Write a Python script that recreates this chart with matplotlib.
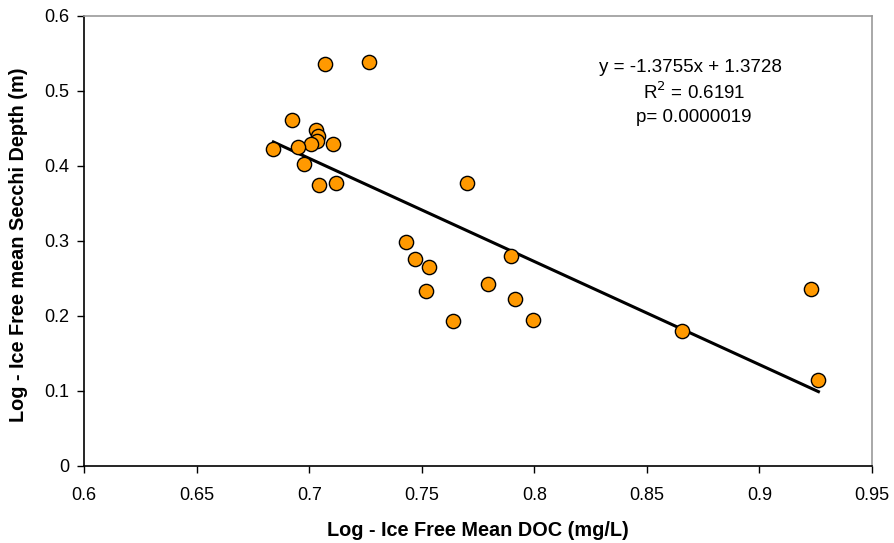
import matplotlib
matplotlib.use("Agg")
import matplotlib.pyplot as plt
import numpy as np

plt.rcParams['font.family'] = ['Liberation Sans', 'DejaVu Sans']

doc = [0.7070, 0.7266, 0.6922, 0.7030, 0.7037, 0.7036, 0.7008, 0.7104, 0.6950,
       0.6840, 0.6975, 0.7044, 0.7118, 0.7700, 0.7428, 0.7468, 0.7530, 0.7895,
       0.7517, 0.7792, 0.7915, 0.7638, 0.7995, 0.8657, 0.9231, 0.9262]
secchi = [0.536, 0.538, 0.461, 0.448, 0.440, 0.433, 0.429, 0.429, 0.425,
          0.423, 0.403, 0.375, 0.377, 0.377, 0.298, 0.276, 0.265, 0.280,
          0.233, 0.243, 0.223, 0.193, 0.195, 0.180, 0.236, 0.114]
slope, intercept = -1.3755, 1.3728
xticks = [0.6, 0.65, 0.7, 0.75, 0.8, 0.85, 0.9, 0.95]
yticks = [0, 0.1, 0.2, 0.3, 0.4, 0.5, 0.6]

fig = plt.figure(figsize=(8.94, 5.43), dpi=100)
L, B, T, R = 84.3, 465.7, 16, 872
ax = fig.add_axes([L/894, 1-B/543, (R-L)/894, (B-T)/543])

xs = np.array([min(doc), max(doc)])
ax.plot(xs, slope*xs + intercept, color='black', lw=2.2, zorder=2)
ax.scatter(doc, secchi, s=105, c='#FF9900', edgecolors='black', linewidths=1.0, zorder=3)

ax.set_xlim(0.6, 0.95)
ax.set_ylim(0, 0.6)
ax.set_xticks(xticks)
ax.set_xticklabels([f"{t:g}" for t in xticks])
ax.set_yticks(yticks)
ax.set_yticklabels([f"{t:g}" for t in yticks])
ax.tick_params(direction='out', length=5, width=1, labelsize=13)
ax.tick_params(axis='x', pad=10)
ax.tick_params(axis='y', pad=6)
ax.spines['top'].set_color('#999999')
ax.spines['right'].set_color('#999999')
for s in ['left', 'bottom']:
    ax.spines[s].set_color('black')
for s in ax.spines.values():
    s.set_linewidth(1.2)

ax.set_xlabel('Log - Ice Free Mean DOC (mg/L)', fontsize=14.3, fontweight='bold', va='center')
ax.set_ylabel('Log - Ice Free mean Secchi Depth (m)', fontsize=14.3, fontweight='bold', va='center')
ax.xaxis.set_label_coords((478-L)/(R-L), (B-530)/(B-T))
ax.yaxis.set_label_coords((19-L)/(R-L), (B-245)/(B-T))

fig.text(690/894, 1-67/543, 'y = -1.3755x + 1.3728', ha='center', va='center', fontsize=13.5)
fig.text(694/894, 1-92/543, r'R$^2$ = 0.6191', ha='center', va='center', fontsize=13.5)
fig.text(694/894, 1-117/543, 'p= 0.0000019', ha='center', va='center', fontsize=13.5)

fig.savefig('out.png', dpi=100)
